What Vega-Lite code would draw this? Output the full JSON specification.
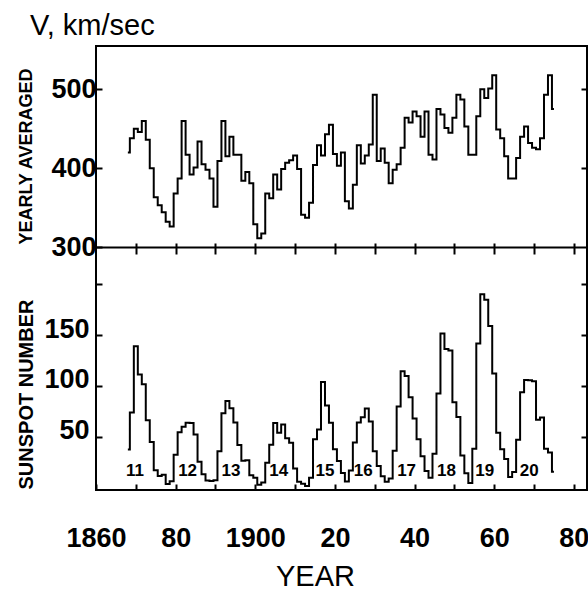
{
  "$schema": "https://vega.github.io/schema/vega-lite/v6.json",
  "autosize": {"type": "none"},
  "width": 491,
  "height": 444,
  "padding": {"left": 96, "top": 46, "right": 1, "bottom": 103},
  "background": "white",
  "config": {
    "view": {"stroke": "black", "strokeWidth": 2},
    "axis": {"grid": false, "domain": false, "tickColor": "black", "tickWidth": 2, "labelColor": "black", "titleColor": "black"}
  },
  "title": {"text": "V, km/sec", "anchor": "start", "frame": "group", "dx": -66, "dy": 29, "offset": 11, "baseline": "alphabetic", "font": "Liberation Sans", "fontSize": 29, "fontWeight": "normal", "color": "black"},
  "datasets": {
    "wind": [
      {"year": 1868, "v": 420}, {"year": 1869, "v": 438}, {"year": 1870, "v": 450}, {"year": 1871, "v": 446}, {"year": 1872, "v": 460},
      {"year": 1873, "v": 436}, {"year": 1874, "v": 400}, {"year": 1875, "v": 363}, {"year": 1876, "v": 353}, {"year": 1877, "v": 344},
      {"year": 1878, "v": 332}, {"year": 1879, "v": 326}, {"year": 1880, "v": 368}, {"year": 1881, "v": 387}, {"year": 1882, "v": 460},
      {"year": 1883, "v": 417}, {"year": 1884, "v": 392}, {"year": 1885, "v": 401}, {"year": 1886, "v": 434}, {"year": 1887, "v": 405},
      {"year": 1888, "v": 398}, {"year": 1889, "v": 387}, {"year": 1890, "v": 351}, {"year": 1891, "v": 409}, {"year": 1892, "v": 460},
      {"year": 1893, "v": 415}, {"year": 1894, "v": 440}, {"year": 1895, "v": 417}, {"year": 1896, "v": 417}, {"year": 1897, "v": 384},
      {"year": 1898, "v": 395}, {"year": 1899, "v": 381}, {"year": 1900, "v": 329}, {"year": 1901, "v": 311}, {"year": 1902, "v": 317},
      {"year": 1903, "v": 368}, {"year": 1904, "v": 362}, {"year": 1905, "v": 392}, {"year": 1906, "v": 373}, {"year": 1907, "v": 399},
      {"year": 1908, "v": 407}, {"year": 1909, "v": 410}, {"year": 1910, "v": 416}, {"year": 1911, "v": 399}, {"year": 1912, "v": 341},
      {"year": 1913, "v": 337}, {"year": 1914, "v": 356}, {"year": 1915, "v": 404}, {"year": 1916, "v": 429}, {"year": 1917, "v": 416},
      {"year": 1918, "v": 443}, {"year": 1919, "v": 455}, {"year": 1920, "v": 418}, {"year": 1921, "v": 403}, {"year": 1922, "v": 420},
      {"year": 1923, "v": 358}, {"year": 1924, "v": 349}, {"year": 1925, "v": 379}, {"year": 1926, "v": 429}, {"year": 1927, "v": 406},
      {"year": 1928, "v": 416}, {"year": 1929, "v": 430}, {"year": 1930, "v": 493}, {"year": 1931, "v": 409}, {"year": 1932, "v": 425},
      {"year": 1933, "v": 407}, {"year": 1934, "v": 381}, {"year": 1935, "v": 398}, {"year": 1936, "v": 405}, {"year": 1937, "v": 426},
      {"year": 1938, "v": 464}, {"year": 1939, "v": 458}, {"year": 1940, "v": 472}, {"year": 1941, "v": 466}, {"year": 1942, "v": 440},
      {"year": 1943, "v": 472}, {"year": 1944, "v": 417}, {"year": 1945, "v": 411}, {"year": 1946, "v": 475}, {"year": 1947, "v": 468},
      {"year": 1948, "v": 451}, {"year": 1949, "v": 445}, {"year": 1950, "v": 464}, {"year": 1951, "v": 493}, {"year": 1952, "v": 487},
      {"year": 1953, "v": 453}, {"year": 1954, "v": 417}, {"year": 1955, "v": 417}, {"year": 1956, "v": 466}, {"year": 1957, "v": 500},
      {"year": 1958, "v": 489}, {"year": 1959, "v": 501}, {"year": 1960, "v": 518}, {"year": 1961, "v": 449}, {"year": 1962, "v": 438},
      {"year": 1963, "v": 415}, {"year": 1964, "v": 387}, {"year": 1965, "v": 387}, {"year": 1966, "v": 413}, {"year": 1967, "v": 440},
      {"year": 1968, "v": 453}, {"year": 1969, "v": 432}, {"year": 1970, "v": 426}, {"year": 1971, "v": 424}, {"year": 1972, "v": 438},
      {"year": 1973, "v": 493}, {"year": 1974, "v": 518}, {"year": 1975, "v": 475}
    ],
    "spots": [
      {"year": 1868, "r": 37.3}, {"year": 1869, "r": 73.9}, {"year": 1870, "r": 139.1}, {"year": 1871, "r": 111.2}, {"year": 1872, "r": 101.6},
      {"year": 1873, "r": 66.2}, {"year": 1874, "r": 44.7}, {"year": 1875, "r": 17.0}, {"year": 1876, "r": 11.3}, {"year": 1877, "r": 12.4},
      {"year": 1878, "r": 3.4}, {"year": 1879, "r": 6.0}, {"year": 1880, "r": 32.3}, {"year": 1881, "r": 54.3}, {"year": 1882, "r": 59.7},
      {"year": 1883, "r": 63.7}, {"year": 1884, "r": 63.5}, {"year": 1885, "r": 52.2}, {"year": 1886, "r": 25.4}, {"year": 1887, "r": 13.1},
      {"year": 1888, "r": 6.8}, {"year": 1889, "r": 6.3}, {"year": 1890, "r": 7.1}, {"year": 1891, "r": 35.6}, {"year": 1892, "r": 73.0},
      {"year": 1893, "r": 85.1}, {"year": 1894, "r": 78.0}, {"year": 1895, "r": 64.0}, {"year": 1896, "r": 41.8}, {"year": 1897, "r": 26.2},
      {"year": 1898, "r": 26.7}, {"year": 1899, "r": 12.1}, {"year": 1900, "r": 9.5}, {"year": 1901, "r": 2.7}, {"year": 1902, "r": 5.0},
      {"year": 1903, "r": 24.4}, {"year": 1904, "r": 42.0}, {"year": 1905, "r": 63.5}, {"year": 1906, "r": 53.8}, {"year": 1907, "r": 62.0},
      {"year": 1908, "r": 48.5}, {"year": 1909, "r": 43.9}, {"year": 1910, "r": 18.6}, {"year": 1911, "r": 5.7}, {"year": 1912, "r": 3.6},
      {"year": 1913, "r": 1.4}, {"year": 1914, "r": 9.6}, {"year": 1915, "r": 47.4}, {"year": 1916, "r": 57.1}, {"year": 1917, "r": 103.9},
      {"year": 1918, "r": 80.6}, {"year": 1919, "r": 63.6}, {"year": 1920, "r": 37.6}, {"year": 1921, "r": 26.1}, {"year": 1922, "r": 14.2},
      {"year": 1923, "r": 5.8}, {"year": 1924, "r": 16.7}, {"year": 1925, "r": 44.3}, {"year": 1926, "r": 63.9}, {"year": 1927, "r": 69.0},
      {"year": 1928, "r": 77.8}, {"year": 1929, "r": 64.9}, {"year": 1930, "r": 35.7}, {"year": 1931, "r": 21.2}, {"year": 1932, "r": 11.1},
      {"year": 1933, "r": 5.7}, {"year": 1934, "r": 8.7}, {"year": 1935, "r": 36.1}, {"year": 1936, "r": 79.7}, {"year": 1937, "r": 114.4},
      {"year": 1938, "r": 109.6}, {"year": 1939, "r": 88.8}, {"year": 1940, "r": 67.8}, {"year": 1941, "r": 47.5}, {"year": 1942, "r": 30.6},
      {"year": 1943, "r": 16.3}, {"year": 1944, "r": 9.6}, {"year": 1945, "r": 33.2}, {"year": 1946, "r": 92.6}, {"year": 1947, "r": 151.6},
      {"year": 1948, "r": 136.3}, {"year": 1949, "r": 134.7}, {"year": 1950, "r": 83.9}, {"year": 1951, "r": 69.4}, {"year": 1952, "r": 31.5},
      {"year": 1953, "r": 13.9}, {"year": 1954, "r": 4.4}, {"year": 1955, "r": 38.0}, {"year": 1956, "r": 141.7}, {"year": 1957, "r": 190.2},
      {"year": 1958, "r": 184.8}, {"year": 1959, "r": 159.0}, {"year": 1960, "r": 112.3}, {"year": 1961, "r": 53.9}, {"year": 1962, "r": 37.6},
      {"year": 1963, "r": 27.9}, {"year": 1964, "r": 10.2}, {"year": 1965, "r": 15.1}, {"year": 1966, "r": 47.0}, {"year": 1967, "r": 93.8},
      {"year": 1968, "r": 105.9}, {"year": 1969, "r": 105.5}, {"year": 1970, "r": 104.5}, {"year": 1971, "r": 66.6}, {"year": 1972, "r": 68.9},
      {"year": 1973, "r": 38.0}, {"year": 1974, "r": 34.5}, {"year": 1975, "r": 15.5}
    ],
    "cycles": [
      {"year": 1869.8, "r": 16, "cycle": "11"}, {"year": 1883.0, "r": 16, "cycle": "12"}, {"year": 1893.9, "r": 16, "cycle": "13"},
      {"year": 1905.9, "r": 16, "cycle": "14"}, {"year": 1917.5, "r": 16, "cycle": "15"}, {"year": 1927.1, "r": 16, "cycle": "16"},
      {"year": 1938.0, "r": 16, "cycle": "17"}, {"year": 1948.0, "r": 16, "cycle": "18"}, {"year": 1957.6, "r": 16, "cycle": "19"},
      {"year": 1968.8, "r": 16, "cycle": "20"}
    ]
  },
  "layer": [
    {
      "data": {"name": "wind"},
      "mark": {"type": "line", "interpolate": "step", "color": "black", "strokeWidth": 2},
      "encoding": {
        "x": {"field": "year", "type": "quantitative", "scale": {"domain": [1860, 1983.3], "nice": false, "zero": false},
              "axis": {"orient": "bottom", "offset": -247, "values": [1870, 1880, 1890, 1900, 1910, 1920, 1930, 1940, 1950, 1960, 1970, 1980], "tickSize": 11, "labels": false, "domain": false, "title": null}},
        "y": {"field": "v", "type": "quantitative", "scale": {"domain": [300, 555], "range": [201, 0], "nice": false, "zero": false},
              "axis": {"orient": "left", "values": [300, 400, 500], "tickSize": -6, "labelPadding": 6, "labelBaseline": "middle",
                       "labelFont": "Liberation Sans", "labelFontSize": 27, "labelFontWeight": "bold",
                       "title": "YEARLY AVERAGED", "titleFont": "Liberation Sans", "titleFontSize": 18, "titleFontWeight": "bold",
                       "titleX": -70, "titleY": 110, "titleAngle": 270, "titleBaseline": "middle", "titleAlign": "center"}}
      }
    },
    {
      "data": {"name": "spots"},
      "mark": {"type": "line", "interpolate": "step", "color": "black", "strokeWidth": 2},
      "encoding": {
        "x": {"field": "year", "type": "quantitative", "scale": {"domain": [1860, 1983.3], "nice": false, "zero": false},
              "axis": {"orient": "bottom", "values": [1860, 1870, 1880, 1890, 1900, 1910, 1920, 1930, 1940, 1950, 1960, 1970, 1980], "format": "d",
                       "labelExpr": "datum.value % 20 != 0 ? '' : ((datum.value == 1860 || datum.value == 1900) ? datum.label : slice(datum.label, 2))",
                       "tickSize": -6, "labelFlush": false, "labelOverlap": false, "labelPadding": 62, "labelBaseline": "alphabetic",
                       "labelFont": "Liberation Sans", "labelFontSize": 27, "labelFontWeight": "bold",
                       "title": "YEAR", "titleFont": "Liberation Sans", "titleFontSize": 29, "titleFontWeight": "normal",
                       "titleX": 219, "titleY": 95, "titleBaseline": "alphabetic", "titleAlign": "center"}},
        "y": {"field": "r", "type": "quantitative", "scale": {"domain": [-2.5, 236.7], "range": [444, 201], "nice": false, "zero": false},
              "axis": {"orient": "left", "values": [50, 100, 150, 200], "labelExpr": "datum.value == 200 ? '' : datum.label", "tickSize": -6,
                       "labelPadding": 13, "labelBaseline": "alphabetic", "labelOffset": 2,
                       "labelFont": "Liberation Sans", "labelFontSize": 27, "labelFontWeight": "bold",
                       "title": "SUNSPOT NUMBER", "titleFont": "Liberation Sans", "titleFontSize": 20, "titleFontWeight": "bold",
                       "titleX": -70, "titleY": 348, "titleAngle": 270, "titleBaseline": "middle", "titleAlign": "center"}}
      }
    },
    {
      "data": {"name": "cycles"},
      "mark": {"type": "text", "font": "Liberation Sans", "fontSize": 17, "fontWeight": "bold", "color": "black", "align": "center", "baseline": "middle"},
      "encoding": {
        "x": {"field": "year", "type": "quantitative", "scale": {"domain": [1860, 1983.3], "nice": false, "zero": false},
              "axis": {"orient": "bottom", "offset": -243, "domain": true, "domainColor": "black", "domainWidth": 2, "ticks": false, "labels": false, "title": null}},
        "y": {"field": "r", "type": "quantitative", "scale": {"domain": [-2.5, 236.7], "range": [444, 201], "nice": false, "zero": false},
              "axis": {"orient": "right", "values": [50, 100, 150, 200], "tickSize": -6, "labels": false, "domain": false, "title": null}},
        "text": {"field": "cycle", "type": "nominal"}
      }
    },
    {
      "data": {"name": "wind"},
      "mark": {"type": "line", "interpolate": "step", "color": "black", "strokeWidth": 2, "strokeOpacity": 0},
      "encoding": {
        "x": {"field": "year", "type": "quantitative", "scale": {"domain": [1860, 1983.3], "nice": false, "zero": false}, "axis": null},
        "y": {"field": "v", "type": "quantitative", "scale": {"domain": [300, 555], "range": [201, 0], "nice": false, "zero": false},
              "axis": {"orient": "right", "values": [400, 500], "tickSize": -6, "labels": false, "domain": false, "title": null}}
      }
    }
  ],
  "resolve": {"scale": {"y": "independent"}, "axis": {"x": "independent", "y": "independent"}}
}
